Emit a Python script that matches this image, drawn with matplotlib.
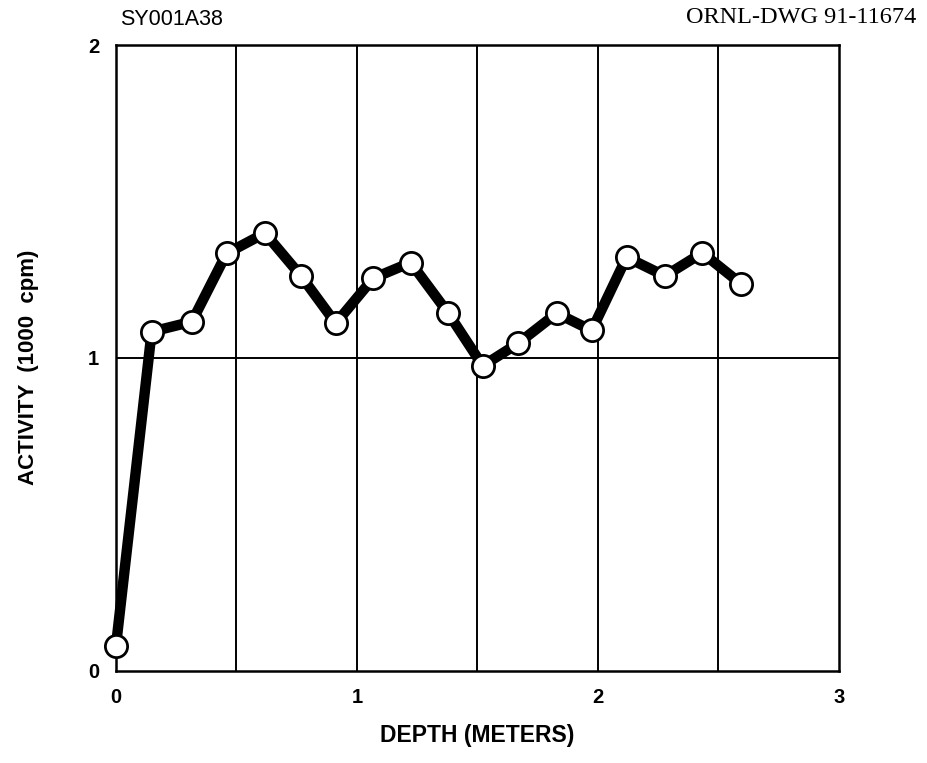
import matplotlib
matplotlib.use("Agg")
import matplotlib.pyplot as plt

# Activity profile along core depth
depth_m = [0.00, 0.148, 0.315, 0.459, 0.618, 0.768, 0.912, 1.068, 1.223,
           1.379, 1.522, 1.669, 1.829, 1.974, 2.119, 2.278, 2.433, 2.592]
activity_kcpm = [0.08, 1.084, 1.116, 1.334, 1.399, 1.262, 1.111, 1.255, 1.305,
                 1.143, 0.975, 1.047, 1.143, 1.088, 1.322, 1.262, 1.336, 1.238]

x_ticks = [0, 1, 2, 3]
y_ticks = [0, 1, 2]
x_grid = [0.5, 1.0, 1.5, 2.0, 2.5]
y_grid = [1.0]

sans = ["Liberation Sans", "DejaVu Sans"]
serif = ["Liberation Serif", "DejaVu Serif"]

fig = plt.figure(figsize=(9.27, 7.63), dpi=100)
ax = fig.add_axes([0.1251, 0.1206, 0.7799, 0.8204])

ax.set_xlim(0, 3)
ax.set_ylim(0, 2)

for gx in x_grid:
    ax.axvline(gx, color="black", lw=1.4, zorder=1)
for gy in y_grid:
    ax.axhline(gy, color="black", lw=1.4, zorder=1)

ax.plot(depth_m, activity_kcpm, color="black", lw=7.5, solid_joinstyle="round",
        solid_capstyle="round", marker="o", markersize=16,
        markerfacecolor="white", markeredgecolor="black", markeredgewidth=2.0,
        zorder=3, clip_on=False)

for s in ax.spines.values():
    s.set_linewidth(1.8)

ax.set_xticks(x_ticks)
ax.set_yticks(y_ticks)
ax.set_xticklabels([str(v) for v in x_ticks], fontsize=14.5, fontweight="bold", family=sans)
ax.set_yticklabels([str(v) for v in y_ticks], fontsize=14.5, fontweight="bold", family=sans)
ax.tick_params(axis="x", length=0, pad=12)
ax.tick_params(axis="y", length=0, pad=12)

ax.set_xlabel("DEPTH (METERS)", fontsize=16.5, fontweight="bold", family=sans)
ax.xaxis.set_label_coords(0.5, -0.085)
ax.set_ylabel("ACTIVITY  (1000  cpm)", fontsize=16, fontweight="bold", family=sans)
ax.yaxis.set_label_coords(-0.106, 0.485)

fig.text(0.13, 0.974, "SY001A38", fontsize=15.5, family=sans, ha="left", va="center")
fig.text(0.988, 0.977, "ORNL-DWG 91-11674", fontsize=17.5, family=serif, ha="right", va="center")

fig.savefig("out.png", dpi=100, facecolor="white")
